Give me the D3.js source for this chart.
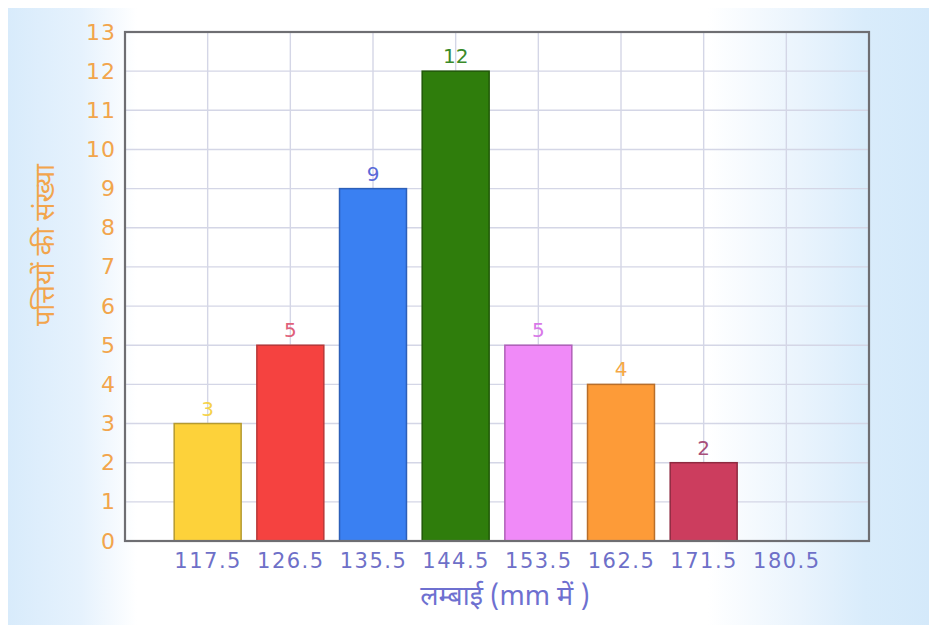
<!DOCTYPE html>
<html>
<head>
<meta charset="utf-8">
<script src="https://cdn.jsdelivr.net/npm/d3@7"></script>
<style>
  html, body { margin: 0; padding: 0; background: #ffffff; }
  svg { display: block; }
</style>
</head>
<body>
<svg id="chart" width="929" height="627"></svg>
<script>
// Leaf length classes (class marks in mm) and number of leaves in each
const lengths = [117.5, 126.5, 135.5, 144.5, 153.5, 162.5, 171.5, 180.5];
const counts = [3, 5, 9, 12, 5, 4, 2, 0];
const barColors = ["#fdd23a", "#f54240", "#3a80f2", "#2f7d0c", "#f08af8", "#fd9b38", "#cc3d5e", "#cccccc"];
const barStrokes = ["#b59a30", "#b83838", "#2c5fb8", "#205808", "#b060b8", "#b86e2a", "#8e2a40", "#999999"];
const labelColors = ["#f5d24a", "#e0607a", "#5a6ad8", "#3a8a2a", "#d878e8", "#f5a845", "#a8507a", "#999999"];
const yTicks = d3.range(0, 14);
const yTitle = "पत्तियों की संख्या";
const xTitle = "लम्बाई (mm में )";

const svg = d3.select("#chart");
const W = 929, H = 627;
const plot = { left: 125, top: 32, right: 869, bottom: 541 };

// Soft blue panel behind the chart
const defs = svg.append("defs");
const grad = defs.append("linearGradient").attr("id", "bg").attr("x1", "0").attr("x2", "1").attr("y1", "0").attr("y2", "0");
[[0, "#d8ebfb"], [0.08, "#e6f2fd"], [0.14, "#ffffff"], [0.76, "#ffffff"], [0.86, "#eaf4fd"], [0.93, "#d9ecfb"], [1, "#d4e9fa"]]
  .forEach(([o, c]) => grad.append("stop").attr("offset", o).attr("stop-color", c));
svg.append("rect").attr("x", 8).attr("y", 8).attr("width", W - 8).attr("height", H - 10).attr("fill", "url(#bg)");

const x = d3.scaleLinear().domain([108.5, 189.5]).range([plot.left, plot.right]);
const y = d3.scaleLinear().domain([0, 13]).range([plot.bottom, plot.top]);
const step = x(lengths[1]) - x(lengths[0]);
const barW = step * 0.81;

// Grid
const grid = svg.append("g");
grid.selectAll("line.h").data(yTicks.slice(1, -1)).join("line")
  .attr("x1", plot.left).attr("x2", plot.right)
  .attr("y1", d => y(d)).attr("y2", d => y(d))
  .attr("stroke", "#d4d6e6").attr("stroke-width", 1.4);
grid.selectAll("line.v").data(lengths).join("line")
  .attr("x1", d => x(d)).attr("x2", d => x(d))
  .attr("y1", plot.top).attr("y2", plot.bottom)
  .attr("stroke", "#d4d6e6").attr("stroke-width", 1.4);

// Bars
const data = lengths.map((l, i) => ({ l, v: counts[i], i }));
svg.append("g").selectAll("rect").data(data.filter(d => d.v > 0)).join("rect")
  .attr("x", d => x(d.l) - barW / 2)
  .attr("y", d => y(d.v))
  .attr("width", barW)
  .attr("height", d => y(0) - y(d.v))
  .attr("fill", d => barColors[d.i])
  .attr("stroke", d => barStrokes[d.i])
  .attr("stroke-width", 1.5);

// Value labels
svg.append("g").selectAll("text").data(data.filter(d => d.v > 0)).join("text")
  .attr("x", d => x(d.l))
  .attr("y", d => y(d.v) - 8)
  .attr("text-anchor", "middle")
  .attr("font-family", "DejaVu Sans, Verdana, sans-serif")
  .attr("font-size", 20)
  .attr("fill", d => labelColors[d.i])
  .text(d => d.v);

// Frame
svg.append("rect")
  .attr("x", plot.left).attr("y", plot.top)
  .attr("width", plot.right - plot.left).attr("height", plot.bottom - plot.top)
  .attr("fill", "none").attr("stroke", "#6e6e72").attr("stroke-width", 2.2);

// Y axis tick labels
const yAxis = d3.axisLeft(y).tickValues(yTicks).tickSize(0).tickPadding(9);
const gy = svg.append("g").attr("transform", `translate(${plot.left},0)`).call(yAxis);
gy.select(".domain").remove();
gy.selectAll("text")
  .attr("font-family", "DejaVu Sans, Verdana, sans-serif")
  .attr("font-size", 22)
  .attr("letter-spacing", 1)
  .attr("fill", "#f2a54c");

// X axis tick labels
const xAxis = d3.axisBottom(x).tickValues(lengths).tickSize(0).tickPadding(12).tickFormat(d3.format(".1f"));
const gx = svg.append("g").attr("transform", `translate(0,${plot.bottom})`).call(xAxis);
gx.select(".domain").remove();
gx.selectAll("text")
  .attr("font-family", "DejaVu Sans, Verdana, sans-serif")
  .attr("font-size", 21)
  .attr("letter-spacing", 1.5)
  .attr("fill", "#6e70c8");

// Axis titles
svg.append("text")
  .attr("transform", `translate(54,245) rotate(-90)`)
  .attr("text-anchor", "middle")
  .attr("font-family", "Noto Sans Devanagari, Noto Sans, sans-serif")
  .attr("font-size", 27)
  .attr("fill", "#f2a54c")
  .text(yTitle);

svg.append("text")
  .attr("x", 505).attr("y", 605)
  .attr("text-anchor", "middle")
  .attr("font-family", "Noto Sans Devanagari, Noto Sans, sans-serif")
  .attr("font-size", 27)
  .attr("fill", "#6e70d0")
  .text(xTitle);
</script>
</body>
</html>
